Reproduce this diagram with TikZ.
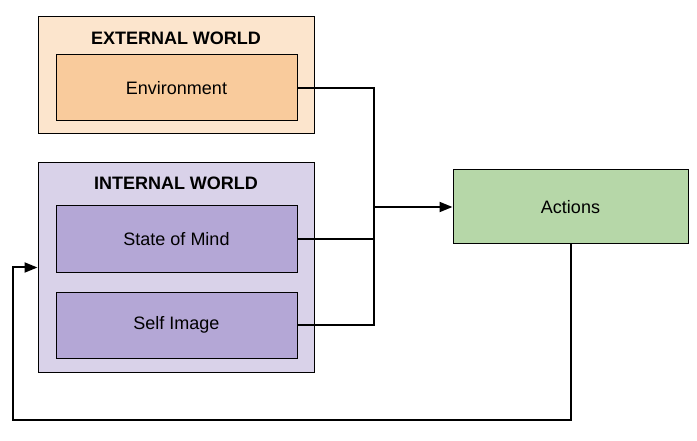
\documentclass[tikz,border=0pt]{standalone}
\usepackage{fontspec}
\setmainfont{Liberation Sans}
\usepackage{xcolor}
\usetikzlibrary{arrows.meta, positioning}
\definecolor{extouter}{HTML}{FCE5CD}
\definecolor{extinner}{HTML}{F9CB9C}
\definecolor{intouter}{HTML}{D9D2E9}
\definecolor{intinner}{HTML}{B4A7D6}
\definecolor{actfill}{HTML}{B6D7A8}
\tikzset{
  font=\fontsize{18}{21}\selectfont,
  world/.style      = {rectangle, draw, line width=1pt, inner sep=0pt},
  part/.style       = {rectangle, draw, line width=1pt, inner sep=0pt,
                       minimum width=241pt, minimum height=66pt},
  heading/.style    = {font=\fontsize{18}{21}\selectfont\bfseries},
  conn/.style       = {line width=2pt, line join=miter},
  arrow/.style      = {conn, -{Triangle[length=13pt, width=10pt]}}
}
\begin{document}
\begin{tikzpicture}[x=1pt, y=-1pt]
  \useasboundingbox (0,0) rectangle (697,441);
  % worlds
  \node[world, fill=extouter, minimum width=276pt, minimum height=117pt] (ext) at (176,75.5) {};
  \node[world, fill=intouter, minimum width=276pt, minimum height=209pt] (int) at (176,267.5) {};
  \node[heading] (exttitle) at (176,38) {EXTERNAL WORLD};
  \node[heading] (inttitle) at (176,183) {INTERNAL WORLD};
  % parts
  \node[part, fill=extinner] (env) at (176.5,88) {Environment};
  \node[part, fill=intinner, minimum height=67pt] (mind) at (176.5,239.5) {State of Mind};
  \node[part, fill=intinner] (selfimg) at (176.5,325) {Self Image};
  \node[part, fill=actfill, minimum width=235pt, minimum height=74pt] (actions) at (570.5,207) {Actions};
  % connectors
  \coordinate (junc) at (374,207);
  \coordinate (loop) at (13,420);
  \draw[conn] (env.east) -| (junc);
  \draw[conn] (mind.east) -| (junc);
  \draw[conn] (selfimg.east) -| (junc);
  \draw[arrow] (junc) -- (actions.west);
  \draw[arrow] (actions.south) |- (loop) |- (int.west);
\end{tikzpicture}
\end{document}
